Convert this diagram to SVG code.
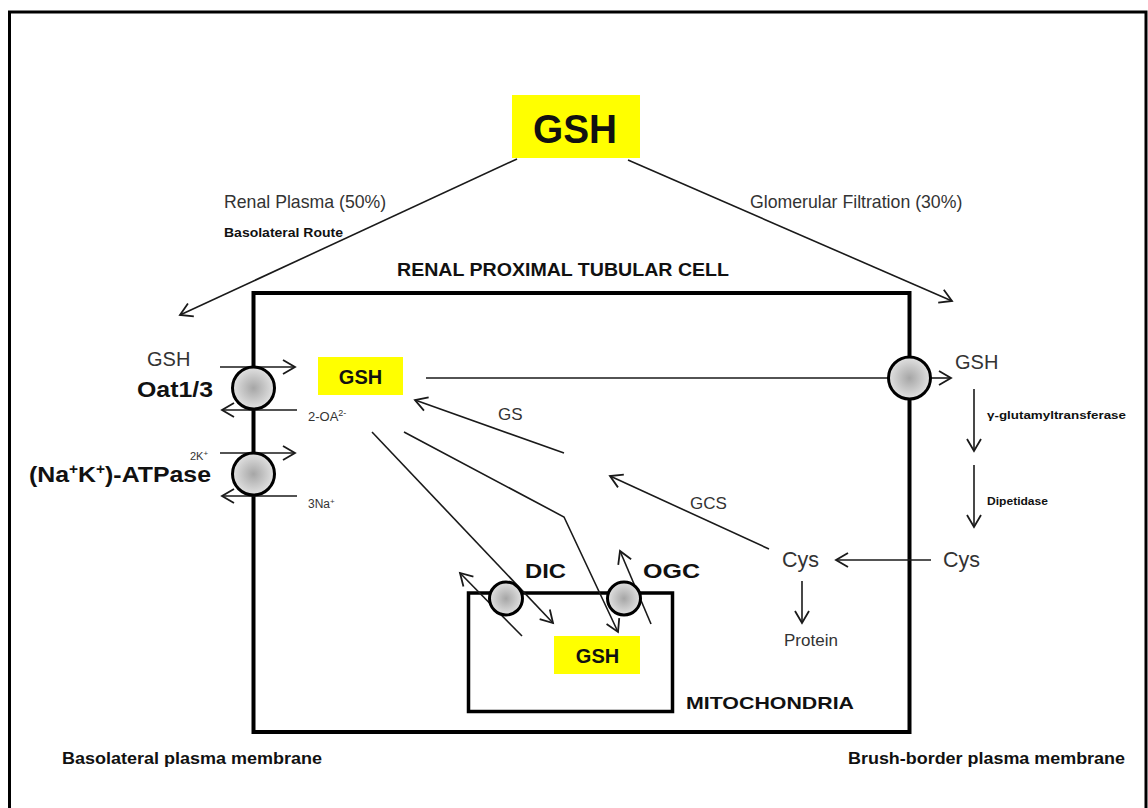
<svg xmlns="http://www.w3.org/2000/svg" width="1148" height="808" viewBox="0 0 1148 808">
<style>
text{font-family:"Liberation Sans",Arial,sans-serif}
.r{fill:#333}
.b{font-weight:bold;fill:#111}
.c{fill:none;stroke:#1a1a1a;stroke-width:1.6}
.ca{fill:none;stroke:#1a1a1a;stroke-width:1.6;marker-end:url(#ah)}
.pore{fill:url(#g);stroke:#000;stroke-width:3}
.yel{fill:#ffff00}
</style>
<defs>
<radialGradient id="g" cx="0.5" cy="0.5" r="0.55">
<stop offset="0" stop-color="#a6a6a6"/>
<stop offset="1" stop-color="#e8e8e8"/>
</radialGradient>
<marker id="ah" markerUnits="userSpaceOnUse" markerWidth="20" markerHeight="20" viewBox="-14 -10 16 20" refX="0" refY="0" orient="auto">
<path d="M-12,-7 L0,0 L-12,7" fill="none" stroke="#1a1a1a" stroke-width="1.8"/>
</marker>
</defs>
<rect width="1148" height="808" fill="#fff"/>
<path d="M9.5,808 V12 H1146 V808" fill="none" stroke="#000" stroke-width="3"/>

<g id="cell">
<rect x="253.5" y="293" width="656" height="439" fill="none" stroke="#000" stroke-width="4"/>
<text class="b" x="397" y="276" font-size="18" textLength="332" lengthAdjust="spacingAndGlyphs">RENAL PROXIMAL TUBULAR CELL</text>
</g>

<g id="mitochondria">
<rect x="468.5" y="593" width="204" height="118.5" fill="none" stroke="#000" stroke-width="3.5"/>
<text class="b" x="686" y="709" font-size="17" textLength="168" lengthAdjust="spacingAndGlyphs">MITOCHONDRIA</text>
</g>

<g id="connectors">
<line class="ca" x1="517" y1="159" x2="180" y2="315"/>
<line class="ca" x1="628" y1="160" x2="952" y2="301"/>
<line class="ca" x1="220" y1="367" x2="295" y2="367"/>
<line class="ca" x1="297" y1="410" x2="222" y2="410"/>
<line class="ca" x1="220" y1="453" x2="295" y2="453"/>
<line class="ca" x1="297" y1="496" x2="222" y2="496"/>
<line class="c" x1="426" y1="378" x2="890" y2="378"/>
<line class="ca" x1="931" y1="378" x2="951" y2="378"/>
<line class="ca" x1="974" y1="389" x2="974" y2="451"/>
<line class="ca" x1="974" y1="465" x2="974" y2="527"/>
<line class="ca" x1="931" y1="560" x2="836" y2="560"/>
<line class="ca" x1="802" y1="581" x2="802" y2="623"/>
<line class="ca" x1="769" y1="549" x2="610" y2="476"/>
<line class="ca" x1="564" y1="453" x2="415" y2="400"/>
<polyline class="ca" points="404,432 564,517 618,632"/>
<line class="ca" x1="372" y1="432" x2="553" y2="623"/>
<line class="ca" x1="522" y1="636" x2="460" y2="573"/>
<line class="ca" x1="651" y1="624" x2="620" y2="551"/>
</g>

<g id="gsh-top">
<rect class="yel" x="512" y="95" width="128" height="63"/>
<text class="b" x="533" y="143" font-size="40" textLength="84" lengthAdjust="spacingAndGlyphs">GSH</text>
</g>

<g id="route-labels">
<text class="r" x="224" y="208" font-size="17.7">Renal Plasma (50%)</text>
<text class="b" x="224" y="237" font-size="12.5" textLength="119" lengthAdjust="spacingAndGlyphs">Basolateral Route</text>
<text class="r" x="750" y="208" font-size="17.7">Glomerular Filtration (30%)</text>
</g>

<g id="oat">
<circle class="pore" cx="253.5" cy="388" r="21"/>
<text class="r" x="147" y="366" font-size="20">GSH</text>
<text class="b" x="137" y="397" font-size="22.5" textLength="76" lengthAdjust="spacingAndGlyphs">Oat1/3</text>
<text class="r" x="308" y="421" font-size="13">2-OA<tspan font-size="9" dy="-5">2-</tspan></text>
</g>

<g id="atpase">
<circle class="pore" cx="253.5" cy="474" r="21"/>
<text class="r" x="190" y="460" font-size="11">2K<tspan font-size="8" dy="-4">+</tspan></text>
<text class="b" x="29" y="482" font-size="22.5" textLength="182" lengthAdjust="spacingAndGlyphs">(Na<tspan font-size="14" dy="-8">+</tspan><tspan dy="8">K</tspan><tspan font-size="14" dy="-8">+</tspan><tspan dy="8">)-ATPase</tspan></text>
<text class="r" x="308" y="508" font-size="12">3Na<tspan font-size="8" dy="-4">+</tspan></text>
</g>

<g id="gsh-cell">
<rect class="yel" x="318" y="357" width="85" height="38"/>
<text class="b" x="360.5" y="384" font-size="20" text-anchor="middle">GSH</text>
</g>

<g id="gs-label"><text class="r" x="498" y="420" font-size="17">GS</text></g>
<g id="gcs-label"><text class="r" x="690" y="509" font-size="17">GCS</text></g>

<g id="brush-pore">
<circle class="pore" cx="909.5" cy="378" r="21"/>
<text class="r" x="955" y="369" font-size="20">GSH</text>
</g>

<g id="ggt"><text class="b" x="987" y="419" font-size="11.5" textLength="139" lengthAdjust="spacingAndGlyphs">γ-glutamyltransferase</text></g>
<g id="dipeptidase"><text class="b" x="987" y="505" font-size="10.5" textLength="61" lengthAdjust="spacingAndGlyphs">Dipetidase</text></g>
<g id="cys-out"><text class="r" x="943" y="567" font-size="21.5">Cys</text></g>
<g id="cys-in"><text class="r" x="782" y="567" font-size="21.5">Cys</text></g>
<g id="protein"><text class="r" x="784" y="646" font-size="17">Protein</text></g>

<g id="dic">
<circle class="pore" cx="506" cy="598.5" r="16.5"/>
<text class="b" x="525" y="578" font-size="20" textLength="41" lengthAdjust="spacingAndGlyphs">DIC</text>
</g>
<g id="ogc">
<circle class="pore" cx="624" cy="598.5" r="16.5"/>
<text class="b" x="643" y="578" font-size="21" textLength="57" lengthAdjust="spacingAndGlyphs">OGC</text>
</g>

<g id="gsh-mito">
<rect class="yel" x="554" y="636" width="86" height="38"/>
<text class="b" x="597.5" y="663" font-size="20" text-anchor="middle">GSH</text>
</g>

<g id="membrane-labels">
<text class="b" x="62" y="764" font-size="16.5" textLength="260" lengthAdjust="spacingAndGlyphs">Basolateral plasma membrane</text>
<text class="b" x="848" y="764" font-size="16.5" textLength="277" lengthAdjust="spacingAndGlyphs">Brush-border plasma membrane</text>
</g>
</svg>
